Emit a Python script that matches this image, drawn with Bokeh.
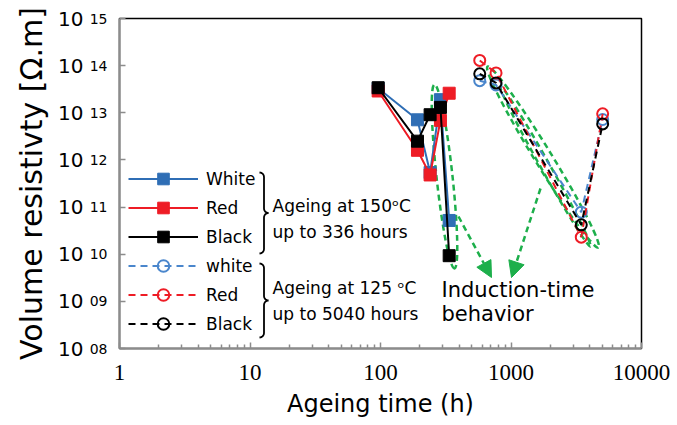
import numpy as np
from bokeh.plotting import figure
from bokeh.models import (FixedTicker, CustomJSTickFormatter, Legend, LegendItem,
                          Label, Arrow, NormalHead, LogAxis)
from bokeh.embed import file_html
from bokeh.resources import INLINE

# ---------------- data ----------------
hours_150 = [96, 192, 240, 288, 336]
white_150 = [3.3e13, 7.1e12, 5.4e11, 1.9e13, 5.2e10]
red_150 = [2.9e13, 1.6e12, 4.8e11, 6.9e12, 2.6e13]
black_150 = [3.4e13, 2.5e12, 9.1e12, 1.3e13, 9.3e9]

hours_125 = [576, 768, 3456, 5040]
white_125 = [4.8e13, 3.9e13, 7.8e10, 7.2e12]
red_125 = [1.29e14, 7.0e13, 2.3e10, 9.5e12]
black_125 = [6.7e13, 4.3e13, 4.2e10, 5.8e12]

x_ticks = [1, 10, 100, 1000, 10000]
x_tick_labels = ["1", "10", "100", "1000", "10000"]
y_exponents = [15, 14, 13, 12, 11, 10, 9, 8]
y_sup_labels = ["15", "14", "13", "12", "11", "10", "09", "08"]
y_base_label = "10"

legend_150 = ["White", "Red", "Black"]
legend_125 = ["white", "Red", "Black"]

BLUE = "#2F6EB5"
BLUE2 = "#4A86CC"
RED = "#EE1C25"
BLACK = "#000000"
GREEN = "#1DAF4B"
AXIS_GREY = "#8C8C8C"
FONT = "DejaVu Sans"

# reference frame geometry (used only to place annotations)
REF_L, REF_R, REF_T, REF_B = 119.0, 641.0, 18.0, 348.0
XL0, XL1 = 0.0, 4.0
YL0, YL1 = 8.0, 15.0


def to_data(px, py):
    lx = XL0 + (px - REF_L) / (REF_R - REF_L) * (XL1 - XL0)
    ly = YL1 - (py - REF_T) / (REF_B - REF_T) * (YL1 - YL0)
    return 10 ** lx, 10 ** ly


p = figure(width=677, height=425, x_axis_type="log", y_axis_type="log",
           x_range=(1, 10000), y_range=(1e8, 1e15),
           output_backend="svg", toolbar_location=None,
           min_border_left=119, min_border_right=36,
           min_border_top=18, min_border_bottom=77)
p.xgrid.visible = False
p.ygrid.visible = False
p.outline_line_color = "black"
p.outline_line_width = 1.5
p.background_fill_color = "white"

# ---------- x axis ----------
minor_x = [m * 10 ** d for d in range(4) for m in range(2, 10)]
p.xaxis.ticker = FixedTicker(ticks=x_ticks, minor_ticks=minor_x)
p.xaxis.formatter = CustomJSTickFormatter(
    args=dict(tvals=x_ticks, tlabels=x_tick_labels),
    code="""
    for (let i = 0; i < tvals.length; i++) {
        if (Math.abs(Math.log10(tvals[i]) - Math.log10(tick)) < 1e-6) return tlabels[i];
    }
    return '';
    """)
p.xaxis.major_label_text_font = "Liberation Serif"
p.xaxis.major_label_text_font_size = "23px"
p.xaxis.major_label_text_color = "black"
p.xaxis.major_label_standoff = 16
p.xaxis.axis_label = "Ageing time (h)"
p.xaxis.axis_label_text_font = FONT
p.xaxis.axis_label_text_font_size = "24px"
p.xaxis.axis_label_text_font_style = "normal"
p.xaxis.axis_label_text_color = "black"
p.xaxis.axis_label_standoff = 7

# ---------- y axis: inner axis carries the exponents ----------
y_tick_vals = [10.0 ** e for e in y_exponents]
yin = p.yaxis[0]
yin.ticker = FixedTicker(ticks=y_tick_vals, minor_ticks=[])
yin.formatter = CustomJSTickFormatter(
    args=dict(exps=y_exponents, sups=y_sup_labels),
    code="""
    const e = Math.round(Math.log10(tick));
    const i = exps.indexOf(e);
    return i >= 0 ? sups[i] : '';
    """)
yin.major_label_text_font = FONT
yin.major_label_text_font_size = "14px"
yin.major_label_text_color = "black"
yin.major_label_text_baseline = "middle"
yin.major_label_standoff = 12

for ax in (p.xaxis[0], yin):
    ax.axis_line_color = AXIS_GREY
    ax.axis_line_width = 2
    ax.major_tick_line_color = AXIS_GREY
    ax.minor_tick_line_color = AXIS_GREY
    ax.major_tick_line_width = 1.5
    ax.minor_tick_line_width = 1.5
    ax.major_tick_in = 6
    ax.major_tick_out = 0
    ax.minor_tick_in = 4
    ax.minor_tick_out = 0

# outer axis carries the "10" base and the title
yout = LogAxis(ticker=FixedTicker(ticks=y_tick_vals, minor_ticks=[]),
               formatter=CustomJSTickFormatter(args=dict(base=y_base_label),
                                               code="return base;"))
yout.axis_line_alpha = 0
yout.major_tick_in = 0
yout.major_tick_out = 0
yout.minor_tick_in = 0
yout.minor_tick_out = 0
yout.major_label_standoff = 3
yout.major_label_text_font = FONT
yout.major_label_text_font_size = "20px"
yout.major_label_text_color = "black"
yout.major_label_text_baseline = "middle"
yout.axis_label = "Volume resistivty [Ω.m]"
yout.axis_label_text_font = FONT
yout.axis_label_text_font_size = "30px"
yout.axis_label_text_font_style = "normal"
yout.axis_label_text_color = "black"
yout.axis_label_standoff = 6
p.add_layout(yout, "left")

# ---------- green annotation ellipses and arrows ----------
def add_ellipse(top, bot, w):
    (x0, y0), (x1, y1) = top, bot
    cx, cy = to_data((x0 + x1) / 2, (y0 + y1) / 2)
    length = float(np.hypot(x1 - x0, y1 - y0))
    ang = float(np.arctan2(-(y1 - y0), x1 - x0))
    p.ellipse(x=[cx], y=[cy], width=length, height=w, angle=ang,
              width_units="screen", height_units="screen",
              fill_alpha=0, line_color=GREEN, line_width=2.5, line_dash="6 4")

add_ellipse((434, 84), (454, 268), 16)
add_ellipse((487, 66), (598, 247), 17)
add_ellipse((500, 86), (590, 246), 9)

for (sxp, syp), (exp_, eyp) in [((458, 216), (491, 277)), ((540, 188), (511, 277))]:
    xs, ys = to_data(sxp, syp)
    xe, ye = to_data(exp_, eyp)
    p.add_layout(Arrow(end=NormalHead(size=16, fill_color=GREEN, line_color=GREEN),
                       x_start=xs, y_start=ys, x_end=xe, y_end=ye,
                       line_color=GREEN, line_width=2.5, line_dash="6 4"))

# ---------- data series ----------
items = []
for name, ys, col in zip(legend_150, [white_150, red_150, black_150], [BLUE, RED, BLACK]):
    lr = p.line(hours_150, ys, line_color=col, line_width=2)
    sr = p.scatter(hours_150, ys, marker="square", size=12, fill_color=col, line_color=col)
    items.append(LegendItem(label=name, renderers=[lr, sr]))

for name, ys, col in zip(legend_125, [white_125, red_125, black_125], [BLUE2, RED, BLACK]):
    lr = p.line(hours_125, ys, line_color=col, line_width=2, line_dash="7 5")
    sr = p.scatter(hours_125, ys, marker="circle", size=11, fill_alpha=0,
                   line_color=col, line_width=2)
    items.append(LegendItem(label=name, renderers=[lr, sr]))

legend = Legend(items=items, location=(9, 10), padding=0, margin=0, spacing=0,
                glyph_width=70, glyph_height=29, label_height=29, label_standoff=8,
                label_text_font=FONT, label_text_font_size="17px",
                label_text_color="black",
                background_fill_alpha=0, border_line_alpha=0)
p.add_layout(legend)

# ---------- braces and their texts ----------
def brace(x0, top, bot, r=4.5):
    mid = (top + bot) / 2
    t = np.linspace(0, np.pi / 2, 7)
    pts = []
    pts += [(x0 + r * np.sin(a), top + r - r * np.cos(a)) for a in t]
    pts += [(x0 + 2 * r - r * np.cos(a), mid - r + r * np.sin(a)) for a in t]
    pts += [(x0 + 2 * r - r * np.cos(a), mid + r - r * np.sin(a)) for a in t[::-1]]
    pts += [(x0 + r * np.sin(a), bot - r + r * np.cos(a)) for a in t[::-1]]
    xs, ys = zip(*[to_data(a, b) for a, b in pts])
    p.line(list(xs), list(ys), line_color="black", line_width=1.8)

brace(259, 172, 253)
brace(259, 263, 337)

texts = [("Ageing at 150ᵒC", 272, 205), ("up to 336 hours", 272, 231),
         ("Ageing at 125 ᵒC", 272, 287), ("up to 5040 hours", 272, 313)]
for t, px, py in texts:
    x, y = to_data(px, py)
    p.add_layout(Label(x=x, y=y, text=t, text_font=FONT, text_font_size="17px",
                       text_baseline="alphabetic", text_color="black"))

for t, px, py in [("Induction-time", 441, 289.5), ("behavior", 441, 313)]:
    x, y = to_data(px, py)
    p.add_layout(Label(x=x, y=y, text=t, text_font=FONT, text_font_size="21px",
                       text_baseline="alphabetic", text_color="black"))

open("out.html", "w").write(file_html(p, INLINE))
